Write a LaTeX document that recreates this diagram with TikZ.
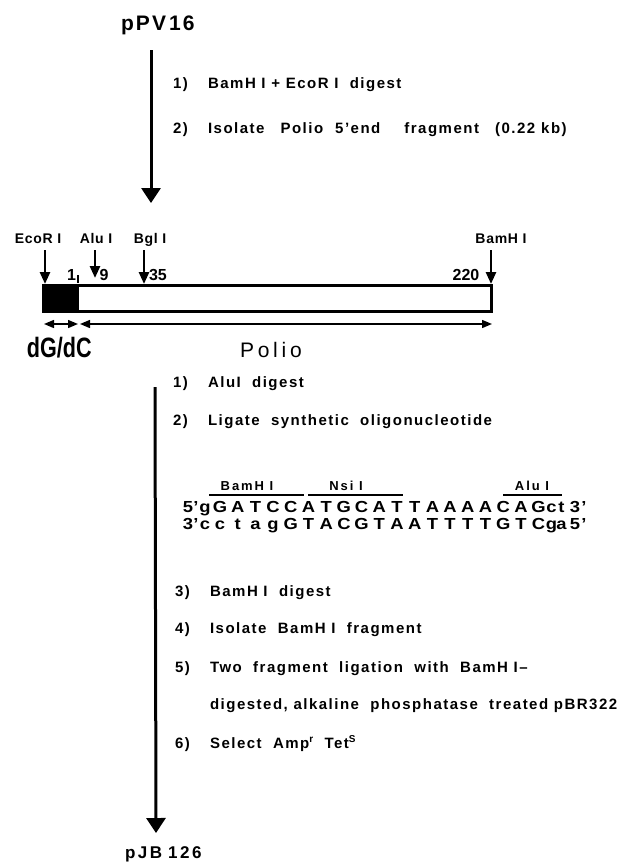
\documentclass[tikz,border=0pt]{standalone}
\usepackage{fontspec}
\setmainfont{Liberation Sans}
\newfontfamily\stepfont{Liberation Sans}[LetterSpace=10,Ligatures=TeX]
\newfontfamily\labfont{Liberation Sans}[LetterSpace=5]
\newfontfamily\oligolabfont{Liberation Sans}[LetterSpace=15]
\newfontfamily\poliofont{Liberation Sans}[LetterSpace=18]
\newfontfamily\dgfont{Liberation Sans}[FakeStretch=0.77]
\newfontfamily\seqfont{Liberation Sans}[FakeStretch=1.15,Ligatures=TeX]
\newfontfamily\titfont{Liberation Sans}[LetterSpace=10]
\newfontfamily\bottitfont{Liberation Sans}[LetterSpace=15]
\usetikzlibrary{arrows.meta}
\begin{document}
\begin{tikzpicture}[x=1pt,y=-1pt,
  every node/.style={inner sep=0pt,outer sep=0pt},
  bigarrow/.style={line width=3pt,-{Triangle[width=19pt,length=15pt]}},
  sitearrow/.style={line width=2.6pt,-{Triangle[width=10pt,length=12pt]}},
  dimarrow/.style={line width=1.4pt,{Triangle[width=8pt,length=10pt]}-{Triangle[width=8pt,length=10pt]}},
  steptext/.style={anchor=base west,font=\stepfont\bfseries\fontsize{15}{17}\selectfont},
  sitelabel/.style={anchor=base,font=\labfont\bfseries\fontsize{14}{16}\selectfont},
  posnum/.style={anchor=base,font=\bfseries\fontsize{16}{18}\selectfont},
  nucl/.style={anchor=base,text height=11.5pt,text depth=0pt,font=\seqfont\bfseries\fontsize{16}{16}\selectfont},
  oligolab/.style={anchor=base,font=\oligolabfont\bfseries\fontsize{13}{15}\selectfont},
  sitebar/.style={line width=1.5pt},
  title/.style={anchor=base west,font=\titfont\bfseries\fontsize{21}{23}\selectfont}
]
\useasboundingbox (0,0) rectangle (621,863);

% top plasmid and first arrow
\node[title] (ppv) at (121,30) {pPV\hspace{3pt}16};
\coordinate (a1s) at (151,50);
\coordinate (a1e) at (151,203);
\draw[bigarrow] (a1s) -- (a1e);
\node[steptext] (s1n) at (173,88) {1)};
\node[steptext] (s1t) at (208,88) {BamH I + EcoR I~~digest};
\node[steptext] (s2n) at (173,133) {2)};
\node[steptext] (s2t) at (208,133) {Isolate\hspace{16pt}Polio\hspace{12pt}5'end\hspace{24pt}fragment\hspace{16pt}(0.22\hspace{6pt}kb)};

% fragment bar
\fill (43,285) rectangle (79,311);
\draw[line width=3pt] (43,285) rectangle (491,311);

% restriction sites
\node[sitelabel] (ecol) at (38,243) {EcoR I};
\node[sitelabel] (alul) at (96,243) {Alu I};
\node[sitelabel] (bgll) at (150,243) {Bgl I};
\node[sitelabel] (baml) at (501,243) {BamH I};
\coordinate (ecos) at (45,250); \coordinate (ecoe) at (45,284);
\coordinate (alus) at (95,250); \coordinate (alue) at (95,278);
\coordinate (bgls) at (144,250); \coordinate (bgle) at (144,284);
\coordinate (bams) at (491,250); \coordinate (bame) at (491,284);
\draw[sitearrow] (ecos) -- (ecoe);
\draw[sitearrow] (alus) -- (alue);
\draw[sitearrow] (bgls) -- (bgle);
\draw[sitearrow] (bams) -- (bame);
\node[posnum] (p1) at (71.5,280) {1};
\draw[line width=1.2pt] (78,275) -- (78,283);
\node[posnum] (p9) at (104,280) {9};
\node[posnum] (p35) at (158,280) {35};
\node[posnum] (p220) at (466,280) {220};

% dimension arrows
\coordinate (d1a) at (44,324); \coordinate (d1b) at (78,324);
\coordinate (d2a) at (80,324); \coordinate (d2b) at (492,324);
\draw[dimarrow] (d1a) -- (d1b);
\draw[dimarrow] (d2a) -- (d2b);
\node[anchor=base west,font=\dgfont\bfseries\fontsize{28}{30}\selectfont] (dgdc) at (27,357) {dG/dC};
\node[anchor=base west,font=\poliofont\fontsize{21}{23}\selectfont] (polio) at (240,357) {Polio};

% second arrow
\coordinate (a2s) at (155,387);
\coordinate (a2e) at (156,833);
\draw[bigarrow] (a2s) -- (a2e);
\node[steptext] (t1n) at (173,387) {1)};
\node[steptext] (t1t) at (208,387) {AluI~~digest};
\node[steptext] (t2n) at (173,425) {2)};
\node[steptext] (t2t) at (208,425) {Ligate~~synthetic~~oligonucleotide};

% oligonucleotide
\node[oligolab] (obam) at (247,490) {BamH I};
\node[oligolab] (onsi) at (346,490) {Nsi I};
\node[oligolab] (oalu) at (532,490) {Alu I};
\draw[sitebar] (209,495) -- (304,495);
\draw[sitebar] (308,495) -- (403,495);
\draw[sitebar] (503,495) -- (562,495);
\node[nucl] (l5) at (188,512.5) {5};
\node[nucl] (l5p) at (196,512.5) {'};
\node[nucl] (l3) at (188,529.5) {3};
\node[nucl] (l3p) at (196,529.5) {'};
\foreach \xx/\tp/\bt [count=\i] in {
  205/g/c, 220/G/c, 237.7/A/t, 255.4/T/a, 273.1/C/g, 290.8/C/G,
  308.5/A/T, 326.2/T/A, 343.9/G/C, 361.6/C/G, 379.3/A/T, 397/T/A,
  414.7/T/A, 432.4/A/T, 450.1/A/T, 467.8/A/T, 485.5/A/T, 503.2/C/G,
  520.9/A/T, 538.6/G/C, 551.5/c/g, 561.5/t/a} {
  \node[nucl] (top\i) at (\xx,512.5) {\tp};
  \node[nucl] (bot\i) at (\xx,529.5) {\bt};
}
\node[nucl] (r3) at (575,512.5) {3};
\node[nucl] (r3p) at (584,512.5) {'};
\node[nucl] (r5) at (575,529.5) {5};
\node[nucl] (r5p) at (584,529.5) {'};

% remaining steps
\node[steptext] (t3n) at (175,596) {3)};
\node[steptext] (t3t) at (210,596) {BamH I~~digest};
\node[steptext] (t4n) at (175,633) {4)};
\node[steptext] (t4t) at (210,633) {Isolate~~BamH I~~fragment};
\node[steptext] (t5n) at (175,672) {5)};
\node[steptext] (t5t) at (210,672) {Two~~fragment~~ligation~~with~~BamH I--};
\node[steptext] (t5u) at (210,709) {digested, alkaline~~phosphatase~~treated pBR322};
\node[steptext] (t6n) at (175,748) {6)};
\node[steptext] (t6t) at (210,748) {Select~~Amp\raisebox{6pt}{\fontsize{10}{10}\selectfont r}~~Tet\raisebox{6pt}{\fontsize{10}{10}\selectfont S}};

\node[anchor=base west,font=\bottitfont\bfseries\fontsize{17}{19}\selectfont] (pjb) at (125,858) {pJB\hspace{6pt}126};
\end{tikzpicture}
\end{document}
